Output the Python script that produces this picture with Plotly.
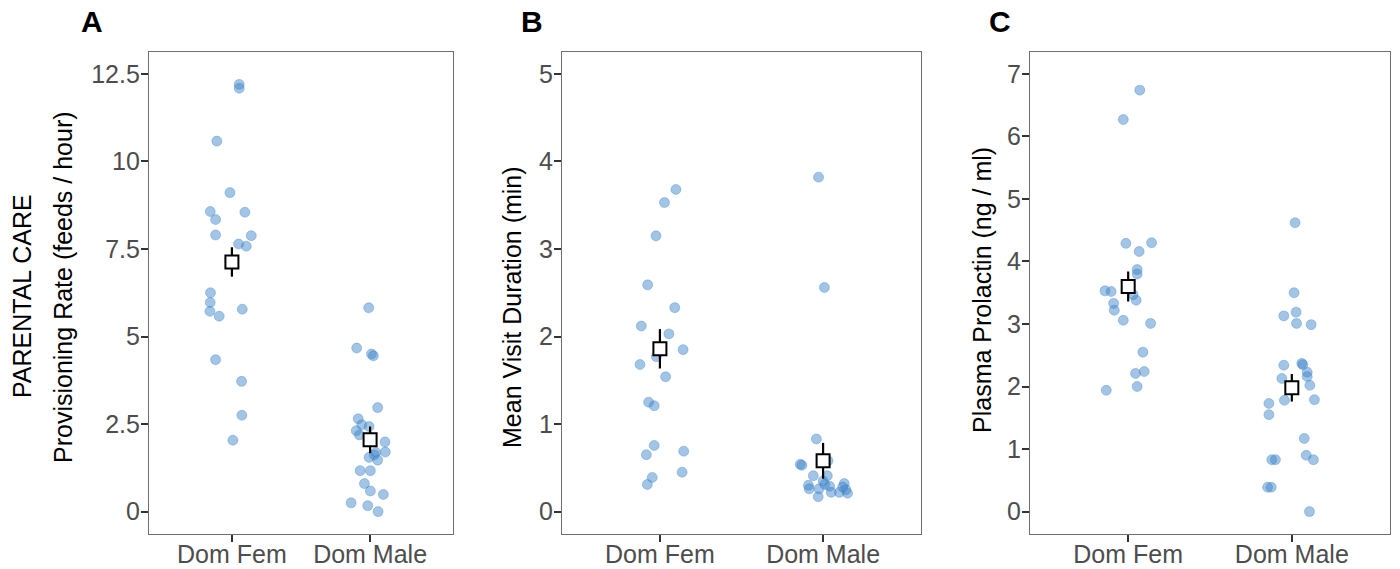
import plotly.graph_objects as go

W, H = 1400, 569

categories = ["Dom Fem", "Dom Male"]

# Panel A: Provisioning rate (feeds / hour)
a_fem_vals = [12.20, 12.09, 10.58, 9.11, 8.57, 8.55, 8.34, 7.90, 7.88, 7.64,
              7.58, 6.25, 5.97, 5.72, 5.58, 5.78, 4.34, 3.72, 2.75, 2.04]
a_fem_jit = [0.053, 0.053, -0.109, -0.014, -0.157, 0.094, -0.118, -0.118, 0.140, 0.048,
             0.104, -0.155, -0.157, -0.159, -0.092, 0.075, -0.118, 0.070, 0.072, 0.007]
a_male_vals = [5.82, 4.67, 4.50, 4.45, 2.97, 2.65, 2.48, 2.43, 2.31, 2.19,
               1.99, 1.70, 1.69, 1.55, 1.47, 1.17, 1.17, 0.80, 0.59, 0.49,
               0.25, 0.17, 0.00, 1.62]
a_male_jit = [-0.010, -0.097, 0.010, 0.024, 0.055, -0.086, -0.060, -0.007, -0.100, -0.077,
              0.108, 0.110, 0.041, -0.007, 0.055, -0.072, 0.002, -0.041, 0.002, 0.096,
              -0.137, -0.017, 0.058, 0.030]
a_mean = [7.13, 2.05]
a_se = [0.42, 0.38]

# Panel B: Mean visit duration (min)
b_fem_vals = [3.68, 3.53, 3.15, 2.59, 2.33, 2.12, 2.03, 1.85, 1.77, 1.68,
              1.54, 1.25, 1.21, 0.755, 0.65, 0.69, 0.45, 0.39, 0.31]
b_fem_jit = [0.098, 0.028, -0.024, -0.075, 0.091, -0.114, 0.055, 0.142, -0.022, -0.122,
             0.035, -0.069, -0.035, -0.035, -0.083, 0.146, 0.136, -0.047, -0.077]
b_male_vals = [3.82, 2.56, 0.83, 0.54, 0.53, 0.58, 0.41, 0.41, 0.30, 0.26,
               0.26, 0.17, 0.35, 0.31, 0.29, 0.22, 0.22, 0.32, 0.25, 0.21, 0.28]
b_male_jit = [-0.028, 0.008, -0.041, -0.140, -0.130, 0.030, -0.060, 0.026, -0.090, -0.085,
              -0.025, -0.030, 0.000, 0.010, 0.040, 0.050, 0.100, 0.130, 0.140, 0.150, 0.120]
b_mean = [1.86, 0.58]
b_se = [0.225, 0.205]

# Panel C: Plasma prolactin (ng / ml)
c_fem_vals = [6.74, 6.27, 4.29, 4.30, 4.16, 3.87, 3.80, 3.53, 3.52, 3.47,
              3.38, 3.33, 3.22, 3.06, 3.01, 2.55, 2.21, 2.24, 2.00, 1.94]
c_fem_jit = [0.071, -0.030, -0.014, 0.143, 0.067, 0.055, 0.055, -0.142, -0.104, 0.030,
             0.049, -0.089, -0.085, -0.030, 0.137, 0.090, 0.045, 0.098, 0.055, -0.134]
c_male_vals = [4.62, 3.50, 3.19, 3.13, 3.01, 2.99, 2.34, 2.37, 2.35, 2.23,
               2.16, 2.13, 2.02, 1.78, 1.79, 1.73, 1.55, 1.17, 0.90, 0.83,
               0.83, 0.83, 0.39, 0.39, 0.00]
c_male_jit = [0.020, 0.014, 0.026, -0.049, 0.029, 0.118, -0.049, 0.061, 0.067, 0.094,
              0.094, -0.061, 0.110, -0.045, 0.138, -0.140, -0.140, 0.076, 0.088, 0.132,
              -0.122, -0.100, -0.148, -0.126, 0.108]
c_mean = [3.60, 1.98]
c_se = [0.24, 0.22]

panels = [
    dict(fem=(a_fem_vals, a_fem_jit), male=(a_male_vals, a_male_jit), mean=a_mean, se=a_se,
         yrange=[-0.625, 13.125], ytick=[0, 2.5, 5, 7.5, 10, 12.5],
         yticktext=["0", "2.5", "5", "7.5", "10", "12.5"], xdom=[149, 453]),
    dict(fem=(b_fem_vals, b_fem_jit), male=(b_male_vals, b_male_jit), mean=b_mean, se=b_se,
         yrange=[-0.25, 5.25], ytick=[0, 1, 2, 3, 4, 5],
         yticktext=["0", "1", "2", "3", "4", "5"], xdom=[562, 921]),
    dict(fem=(c_fem_vals, c_fem_jit), male=(c_male_vals, c_male_jit), mean=c_mean, se=c_se,
         yrange=[-0.35, 7.35], ytick=[0, 1, 2, 3, 4, 5, 6, 7],
         yticktext=["0", "1", "2", "3", "4", "5", "6", "7"], xdom=[1030, 1390]),
]

FONT = "Liberation Sans, Arial, Helvetica, sans-serif"
PT_COLOR = "rgba(60,132,200,0.48)"
PT_EDGE = "rgba(60,132,200,0.35)"
BORDER = "#6f6f6f"
TICKC = "#333333"
TXT = "#4d4d4d"

fig = go.Figure()
layout = dict(
    width=W, height=H, margin=dict(l=0, r=0, t=0, b=0),
    paper_bgcolor="white", plot_bgcolor="white", showlegend=False,
    font=dict(family=FONT, size=25, color=TXT),
)
ydom = [(H - 533.5) / H, (H - 52.0) / H]

for i, p in enumerate(panels):
    sfx = "" if i == 0 else str(i + 1)
    xa, ya = "x" + sfx, "y" + sfx
    for k, (vals, jit) in enumerate([p["fem"], p["male"]]):
        fig.add_trace(go.Scatter(
            x=[k + 1 + j for j in jit], y=vals, mode="markers", xaxis=xa, yaxis=ya,
            marker=dict(size=10, color=PT_COLOR, line=dict(width=1, color=PT_EDGE)),
            hoverinfo="y"))
    fig.add_trace(go.Scatter(
        x=[1, 2], y=p["mean"], mode="markers", xaxis=xa, yaxis=ya,
        marker=dict(symbol="square", size=13, color="white", line=dict(width=2, color="black")),
        error_y=dict(type="data", array=p["se"], color="black", thickness=2.2, width=0),
        hoverinfo="y"))
    common = dict(showline=True, linecolor=BORDER, linewidth=1.2, mirror=True,
                  showgrid=False, zeroline=False, ticks="outside", ticklen=7,
                  tickcolor=TICKC, tickwidth=1.5,
                  tickfont=dict(family=FONT, size=25, color=TXT))
    layout["xaxis" + sfx] = dict(common, domain=[p["xdom"][0] / W, p["xdom"][1] / W],
                                 range=[0.4, 2.6], tickvals=[1, 2], ticktext=categories,
                                 anchor=ya, ticklabelstandoff=-9)
    layout["yaxis" + sfx] = dict(common, domain=ydom, range=p["yrange"],
                                 tickvals=p["ytick"], ticktext=p["yticktext"],
                                 anchor=xa, ticklabelstandoff=-4)

ann = []
for letter, px in [("A", 92), ("B", 532), ("C", 1000)]:
    ann.append(dict(text="<b>%s</b>" % letter, x=px / W, y=1 - 22 / H, xref="paper", yref="paper",
                    xanchor="center", yanchor="middle", showarrow=False,
                    font=dict(family=FONT, size=30, color="black")))
titles = [("PARENTAL CARE", 22, 296), ("Provisioning Rate (feeds / hour)", 63, 287),
          ("Mean Visit Duration (min)", 512, 307), ("Plasma Prolactin (ng / ml)", 982, 290)]
for t, px, py in titles:
    ann.append(dict(text=t, x=px / W, y=1 - py / H, xref="paper", yref="paper",
                    xanchor="center", yanchor="middle", textangle=-90, showarrow=False,
                    font=dict(family=FONT, size=25, color="black")))
layout["annotations"] = ann
fig.update_layout(**layout)
fig.write_html("out.html")
